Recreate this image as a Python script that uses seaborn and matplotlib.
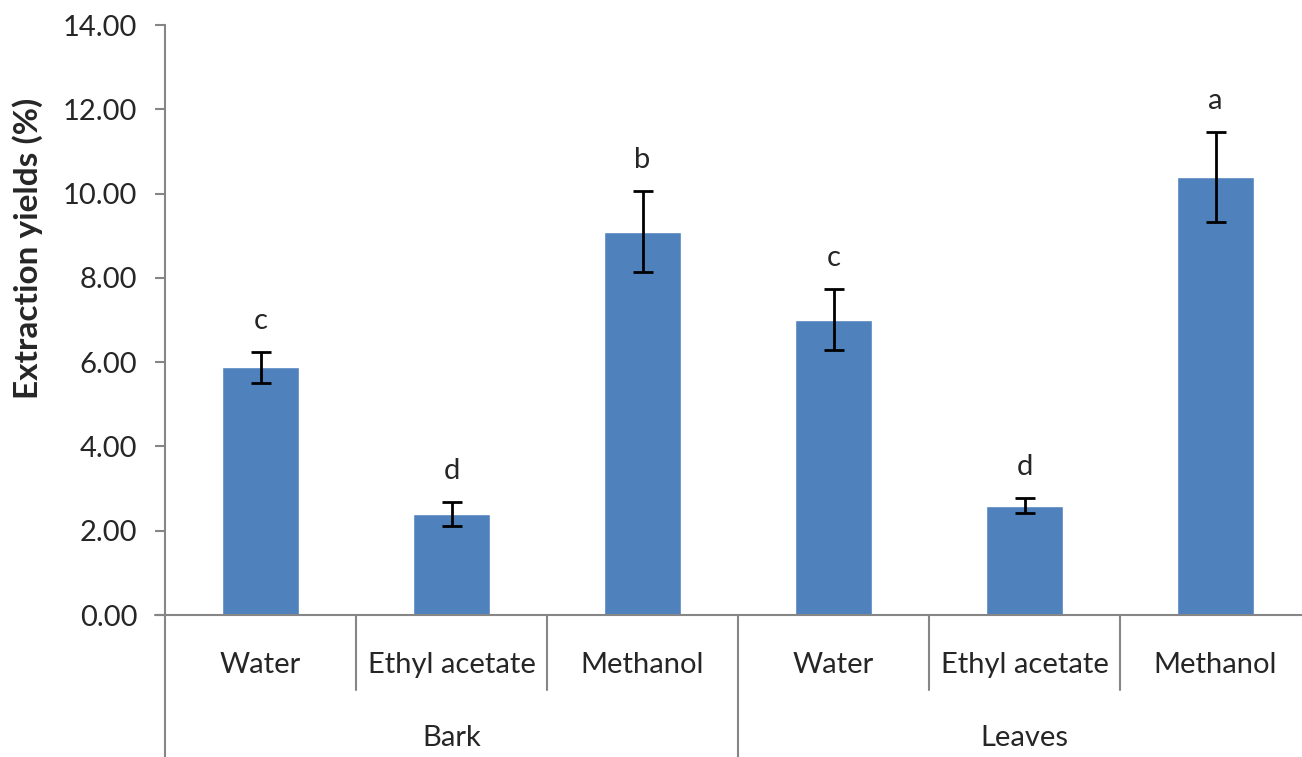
import numpy as np
import pandas as pd
import seaborn as sns
import matplotlib.pyplot as plt

# values
parts = ['Bark', 'Bark', 'Bark', 'Leaves', 'Leaves', 'Leaves']
solvents = ['Water', 'Ethyl acetate', 'Methanol', 'Water', 'Ethyl acetate', 'Methanol']
yields = [5.88, 2.40, 9.10, 7.01, 2.59, 10.39]
errors = [0.37, 0.28, 0.96, 0.73, 0.18, 1.07]
letters = ['c', 'd', 'b', 'c', 'd', 'a']
groups = ['Bark', 'Leaves']

df = pd.DataFrame({'part': parts, 'solvent': solvents, 'yield': yields, 'err': errors})
df['key'] = df['part'] + ' ' + df['solvent']

sns.set_style('white')
plt.rcParams['font.family'] = ['Lato', 'DejaVu Sans']

W, H = 1302, 757
fig = plt.figure(figsize=(W / 100, H / 100), dpi=100)
ax = fig.add_axes([165 / W, 1 - 615 / H, (1311 - 165) / W, (615 - 25) / H])

sns.barplot(data=df, x='key', y='yield', color='#4F81BD', saturation=1,
            width=0.4, errorbar=None, ax=ax)
x = np.arange(len(df))
ax.errorbar(x, df['yield'], yerr=df['err'], fmt='none', ecolor='black',
            elinewidth=2, capsize=7, capthick=2)

for xi, top, lab in zip(x, df['yield'] + df['err'], letters):
    ax.annotate(lab, (xi, top), xytext=(0, 13), textcoords='offset points',
                ha='center', va='bottom', fontsize=21)

ax.set_xlim(-0.5, 5.5)
ax.set_ylim(0, 14)
ax.set_yticks(np.arange(0, 15, 2))
ax.set_yticklabels([f'{v:.2f}' for v in np.arange(0, 15, 2)], fontsize=21)
ax.tick_params(axis='y', direction='out', length=7, width=1.5, color='#868686', pad=13, left=True)
ax.set_xticks([])
ax.set_xlabel('')
ax.set_ylabel('')

for s in ['top', 'right']:
    ax.spines[s].set_visible(False)
for s in ['left', 'bottom']:
    ax.spines[s].set_color('#868686')
    ax.spines[s].set_linewidth(1.5)

trans = ax.get_xaxis_transform()
gray = '#868686'
# stub of x axis to the left of y axis
ax.plot([-0.55, -0.5], [0, 0], transform=trans, color=gray, lw=1.5, clip_on=False)
for b in [0.5, 1.5, 3.5, 4.5]:
    ax.plot([b, b], [0, -0.127], transform=trans, color=gray, lw=1.5, clip_on=False)
for b in [-0.5, 2.5, 5.5]:
    ax.plot([b, b], [0, -0.25], transform=trans, color=gray, lw=1.5, clip_on=False)

for xi, s in zip(x, solvents):
    ax.text(xi, -0.0847, s, transform=trans, ha='center', va='center', fontsize=21)
for gi, g in enumerate(groups):
    ax.text(gi * 3 + 1, -0.208, g, transform=trans, ha='center', va='center', fontsize=21)

fig.text(28 / W, 1 - 248 / H, 'Extraction yields (%)', rotation=90, ha='center',
         va='center', fontsize=24, fontweight='bold')

fig.savefig('out.png', dpi=100)
